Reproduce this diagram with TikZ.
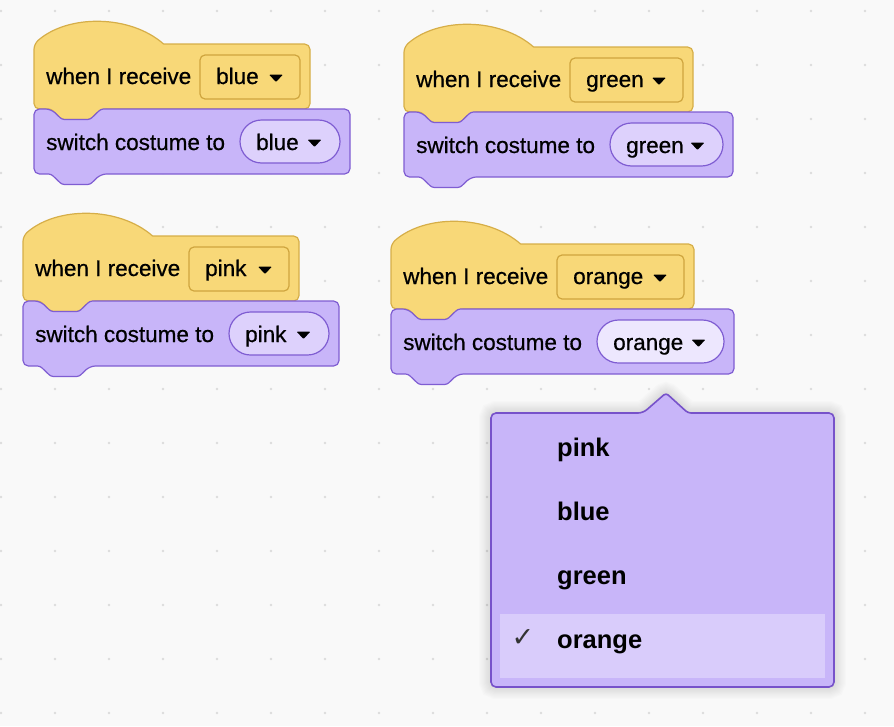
\documentclass[tikz,border=0pt]{standalone}
\usepackage{fontspec}
\setmainfont{Liberation Sans}
\newfontfamily\blockfont[FakeBold=0.6]{Liberation Sans}
\newfontfamily\symfont{DejaVu Sans}
\definecolor{bg}{HTML}{F9F9F9}
\definecolor{dotc}{HTML}{DCDCDC}
\definecolor{hatfill}{HTML}{F8D878}
\definecolor{hatline}{HTML}{D6AE48}
\definecolor{ddline}{HTML}{CFA53E}
\definecolor{lookfill}{HTML}{C8B5F9}
\definecolor{lookline}{HTML}{7F5DD2}
\definecolor{ovalfill}{HTML}{DDD1FC}
\definecolor{ovalact}{HTML}{EDE7FE}
\definecolor{menuline}{HTML}{7752CA}
\definecolor{menuhi}{HTML}{D9CCFB}
\tikzset{
  blocktext/.style={font=\blockfont\fontsize{22.5}{27}\selectfont, inner sep=0pt, anchor=base west, text=black},
  menutext/.style={font=\fontsize{25.5}{30}\selectfont\bfseries, inner sep=0pt, anchor=base west, text=black},
  hatshape/.style={fill=hatfill, draw=hatline, line width=1.2pt, line join=round},
  lookshape/.style={fill=lookfill, draw=lookline, line width=1.2pt, line join=round},
  ddshape/.style={fill=hatfill, draw=ddline, line width=1.2pt},
  ovalshape/.style={draw=lookline, line width=1.2pt},
  arrowtri/.style={fill=black, rounded corners=1pt},
  menushape/.style={insert path={(643,413) [rounded corners=3pt] -- (666,393) -- (688,413) [rounded corners=5pt] -- (834,413) -- (834,687) -- (491,687) -- (491,413) -- cycle}},
}
\newcommand\blockpair[6]{%
  \pgfmathsetmacro\bpL{#2}%
  \pgfmathsetmacro\bpT{#3}%
  \pgfmathsetmacro\bpB{#3+65}%
  \pgfmathsetmacro\bpBB{#3+130}%
  \pgfmathsetmacro\bpR{#2+176+#4}%
  \pgfmathsetmacro\bpRR{#2+216+#4}%
  \pgfmathsetmacro\bpDL{#2+166}%
  \pgfmathsetmacro\bpDR{#2+166+#4}%
  \pgfmathsetmacro\bpOL{#2+206}%
  \pgfmathsetmacro\bpOR{#2+206+#4}%
  \pgfmathsetmacro\bpNa{#2+17}%
  \pgfmathsetmacro\bpNb{#2+28}%
  \pgfmathsetmacro\bpNc{#2+56}%
  \pgfmathsetmacro\bpNd{#2+67}%
  \pgfmathsetmacro\bpC{#2+129.6}%
  % hat block
  \draw[hatshape] (\bpL,\bpT) .. controls (\bpL+33.75,\bpT-29.7) and (\bpL+95.85,\bpT-29.7) .. (\bpC,\bpT)
     [rounded corners=5.4pt] -- (\bpR,\bpT) -- (\bpR,\bpB) -- (\bpNd,\bpB)
     [rounded corners=2.5pt] -- (\bpNc,\bpB+10.5) -- (\bpNb,\bpB+10.5) -- (\bpNa,\bpB)
     [rounded corners=5.4pt] -- (\bpL,\bpB) -- cycle;
  % looks block
  \draw[lookshape] (\bpNa,\bpB) [rounded corners=2.5pt] -- (\bpNb,\bpB+10.5) -- (\bpNc,\bpB+10.5) -- (\bpNd,\bpB)
     [rounded corners=5.4pt] -- (\bpRR,\bpB) -- (\bpRR,\bpBB) -- (\bpNd,\bpBB)
     [rounded corners=2.5pt] -- (\bpNc,\bpBB+10.5) -- (\bpNb,\bpBB+10.5) -- (\bpNa,\bpBB)
     [rounded corners=5.4pt] -- (\bpL,\bpBB) -- (\bpL,\bpB) -- cycle;
  % hat dropdown
  \draw[ddshape, rounded corners=5pt] (\bpDL,\bpT+11) rectangle (\bpDR,\bpT+55);
  \node[blocktext] (#1-hat) at (\bpL+12,\bpT+40) {when I receive};
  \node[blocktext] (#1-hatval) at (\bpDL+16,\bpT+40) {#5};
  \fill[arrowtri] (\bpDR-31,\bpT+30.5) -- (\bpDR-17,\bpT+30.5) -- (\bpDR-24,\bpT+38) -- cycle;
  % oval
  \draw[ovalshape, fill=#6, rounded corners=21.5pt] (\bpOL,\bpB+11) rectangle (\bpOR,\bpB+54);
  \node[blocktext] (#1-sw) at (\bpL+12,\bpB+41) {switch costume to};
  \node[blocktext] (#1-swval) at (\bpOL+16,\bpB+41) {#5};
  \fill[arrowtri] (\bpOR-32.5,\bpB+30.5) -- (\bpOR-18.5,\bpB+30.5) -- (\bpOR-25.5,\bpB+38) -- cycle;
}
\begin{document}
\begin{tikzpicture}[x=1pt,y=-1pt]
  \fill[bg] (0,0) rectangle (894,726);
  \useasboundingbox (0,0) rectangle (894,726);
  \foreach \i in {0,...,16} {
    \foreach \j in {0,...,13} {
      \fill[dotc] (1+54*\i,11+54*\j) circle (1.4pt);
    }
  }
  \blockpair{b1}{34}{44}{100}{blue}{ovalfill}
  \blockpair{b2}{404}{47}{113}{green}{ovalfill}
  \blockpair{b3}{23}{236}{100}{pink}{ovalfill}
  \blockpair{b4}{391}{244}{127}{orange}{ovalact}
  % dropdown menu shadow
  \foreach \k in {1,...,10} {
    \draw[menushape, draw=black, opacity=0.012, line width=\k*2.4pt];
  }
  \draw[menushape, fill=lookfill, draw=menuline, line width=1.6pt];
  \fill[menuhi] (500,614) rectangle (825,678);
  \node[menutext] (m1) at (557,456) {pink};
  \node[menutext] (m2) at (557,520) {blue};
  \node[menutext] (m3) at (557,584) {green};
  \node[menutext] (m4) at (557,648) {orange};
  \node[font=\symfont\fontsize{27}{30}\selectfont, text=black!80, inner sep=0pt] (chk) at (523,638) {✓};
\end{tikzpicture}
\end{document}
